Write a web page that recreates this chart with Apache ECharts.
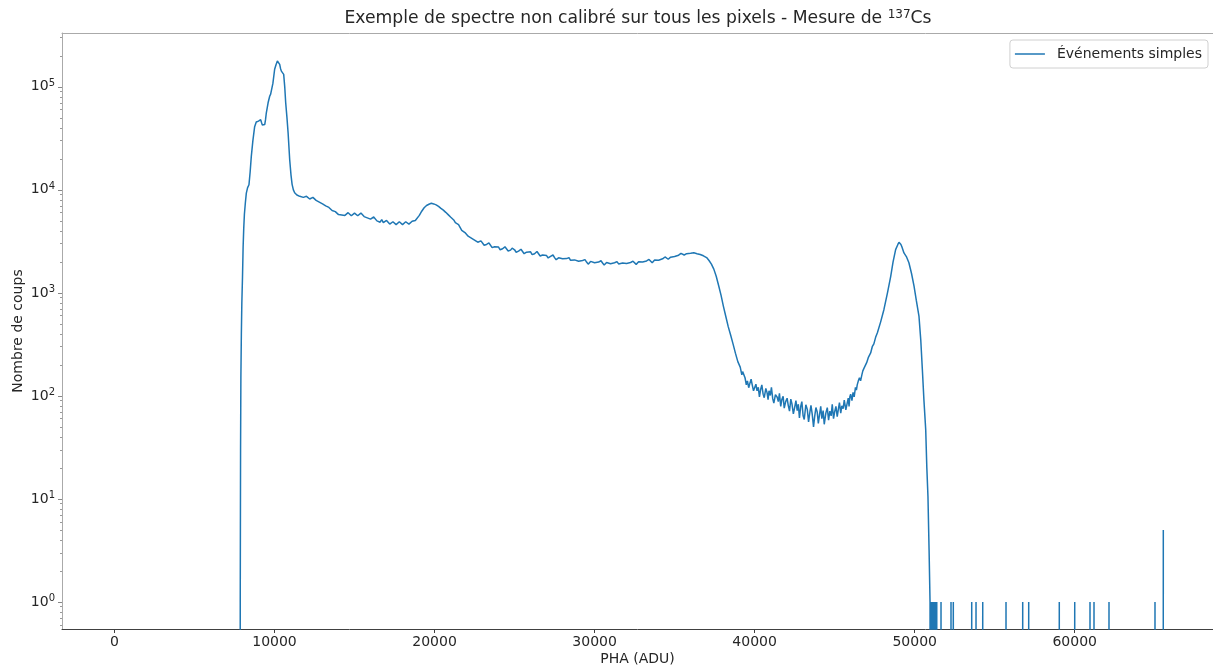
<!DOCTYPE html>
<html><head><meta charset="utf-8">
<script src="https://cdn.jsdelivr.net/npm/echarts@6/dist/echarts.min.js"></script>
<style>html,body{margin:0;padding:0;background:#fff}#c{width:1213px;height:669px}</style>
</head><body><div id="c"></div><script>
// ---- data: [PHA (ADU), counts] ----
const riseAndEscape = [[0,0],[7800,0],[7860,1],[7880,30],[7900,150],[7930,400],[7960,800],[8000,1400],[8040,2800],[8080,4300],[8120,5800],[8180,7500],[8240,9300],[8320,10500],[8405,11200],[8480,15000],[8550,21000],[8650,30000],[8760,41000],[8860,45500],[8930,44000],[9000,46500],[9080,47500],[9136,48000],[9190,45000],[9240,42500],[9300,44000],[9390,43000],[9440,48000],[9490,56000],[9600,70000],[9700,81000],[9760,85000],[9805,84000],[9900,108000],[10010,148000],[10100,165000],[10180,178000],[10220,182000],[10270,172000],[10325,165000],[10380,150000],[10430,142000],[10500,138000],[10575,132000],[10640,100000],[10700,70000],[10780,50000],[10850,35800],[10950,19600],[11030,14000],[11100,11300],[11180,10000],[11260,9360],[11400,8900],[11580,8650]];
const comptonPlateau = [[11700,8700],[11800,8450],[11900,8350],[12000,8650],[12100,8500],[12200,8150],[12300,8200],[12400,8450],[12500,8300],[12600,7900],[12700,7950],[12800,7600],[12900,7700],[13000,7300],[13100,7450],[13200,7000],[13300,6950],[13400,6750],[13500,6700],[13600,6300],[13700,6250],[13800,6150],[13900,6100],[14000,5750],[14100,5850],[14200,5700],[14300,5950],[14400,5650],[14500,5750],[14600,6000],[14700,5900],[14800,5600],[14900,5750],[15000,5950],[15100,5850],[15200,5600],[15300,5700],[15400,5950],[15500,5900],[15600,5500],[15700,5600],[15800,5350],[15900,5550],[16000,5200],[16100,5300],[16200,5450],[16300,5250],[16400,5000],[16500,5050],[16600,4850],[16700,5150],[16800,4800],[16900,4900],[17000,5050],[17100,4950],[17200,4650],[17300,4780],[17400,4900],[17500,4880],[17600,4600],[17700,4700],[17800,4900],[17900,4850],[18000,4600],[18100,4700],[18200,4900],[18300,4850],[18400,4650],[18500,4800],[18600,4950],[18700,5000],[18800,5050],[18900,5200],[19050,5650],[19200,6200],[19350,6700],[19500,7050],[19650,7250],[19800,7400],[19950,7300],[20100,7150],[20250,6900],[20400,6600],[20550,6350],[20700,6050],[20850,5750],[21000,5450],[21100,5350],[21200,5100],[21300,4800],[21400,4700],[21500,4600],[21600,4400],[21700,4050],[21800,4100],[21900,3850],[22000,3800],[22100,3550],[22200,3650],[22300,3400],[22400,3400],[22500,3250],[22600,3300],[22700,3100],[22800,3150],[22900,3200],[23000,3080],[23100,2900],[23250,2950],[23400,3050],[23500,2920],[23600,2750],[23750,2800],[23850,2900],[24000,2780],[24100,2620],[24250,2680],[24400,2800],[24500,2690],[24600,2550],[24750,2600],[24850,2720],[25000,2620],[25100,2480],[25250,2540],[25400,2650],[25500,2570],[25600,2400],[25750,2480],[25850,2580],[26000,2500],[26100,2350],[26250,2400],[26400,2520],[26500,2430],[26600,2280],[26750,2330],[26850,2420],[27000,2300],[27100,2180],[27250,2260],[27400,2330],[27500,2200],[27600,2100],[27750,2190],[27850,2280],[28000,2140],[28100,2050],[28250,2150],[28400,2200],[28500,2070],[28600,1980],[28750,2090],[28850,2150],[29000,2030],[29100,1950],[29250,2060],[29400,2100],[29500,1990],[29600,1900],[29750,2020],[29850,2080],[30000,1960],[30100,1880],[30250,1990],[30400,2050],[30500,1950],[30600,1860],[30750,1970],[30850,2050],[31000,1920],[31100,1850],[31250,1960],[31400,2010],[31500,1910],[31600,1840],[31750,1950],[31850,2020],[32000,1930],[32100,1860],[32250,1970],[32400,2030],[32500,1950],[32600,1890],[32750,2000],[32850,2070],[33000,1990],[33100,1930],[33250,2040],[33400,2110],[33500,2020],[33600,1960],[33750,2080],[33850,2150],[34000,2070],[34100,2030],[34250,2140],[34400,2230],[34500,2160],[34600,2120],[34750,2220],[34850,2310],[35000,2250],[35100,2220],[35250,2320],[35400,2420],[35500,2370],[35600,2330],[35750,2400],[35850,2480],[36000,2420],[36100,2390],[36200,2450],[36300,2470],[36400,2400],[36500,2420],[36600,2360],[36700,2330],[36800,2290],[36900,2250],[37000,2200]];
const comptonEdge = [[37150,2060],[37300,1900],[37450,1700],[37600,1450],[37750,1180],[37900,950],[38050,740],[38200,590],[38350,470],[38500,390],[38650,320],[38800,260],[38950,215],[39100,190],[39200,160],[39250,172],[39400,150],[39480,128],[39550,140],[39630,120],[39700,132],[39780,145],[39850,128],[39930,112],[40000,120]];
const valley = [[40080,130],[40150,112],[40230,121],[40300,98],[40380,116],[40450,128],[40530,104],[40600,96],[40700,118],[40780,107],[40840,92],[40900,112],[40980,101],[41050,121],[41130,94],[41200,85],[41300,103],[41410,97],[41480,88],[41550,106],[41630,79],[41700,92],[41780,99],[41850,76],[41940,88],[42030,95],[42100,81],[42180,71],[42260,93],[42330,84],[42420,67],[42500,77],[42580,90],[42660,72],[42730,83],[42800,61],[42880,79],[42950,88],[43030,64],[43100,59],[43200,82],[43290,74],[43370,56],[43450,69],[43520,81],[43600,66],[43680,50],[43750,63],[43830,77],[43910,70],[43980,54],[44050,65],[44130,79],[44200,60],[44280,72],[44350,53],[44450,68],[44540,77],[44620,58],[44700,71],[44780,64],[44850,83],[44930,60],[45000,70],[45080,79],[45160,63],[45230,74],[45300,86],[45380,68],[45450,80],[45530,75],[45600,91],[45700,73],[45790,86],[45850,95],[45900,79],[45950,98],[46000,104],[46080,90],[46150,108],[46220,98],[46300,121],[46360,114],[46410,128]];
const photopeak = [[46480,140],[46550,150],[46620,140],[46700,160],[46760,175],[46830,185],[46900,180],[47000,210],[47100,235],[47180,230],[47250,261],[47350,300],[47450,320],[47560,370],[47670,410],[47870,520],[48080,690],[48300,1000],[48500,1440],[48650,2000],[48810,2630],[48950,2950],[49020,3100],[49080,3060],[49140,2950],[49200,2800],[49330,2440],[49400,2380],[49480,2250],[49640,1960],[49800,1550],[49960,1160],[50100,850],[50270,590],[50380,350],[50480,180],[50580,90],[50690,47],[50760,20],[50830,10.6],[50900,3.2],[50960,1],[51000,0]];
const tail = [[51020,1],[51040,0],[51060,1],[51080,1],[51100,0],[51120,1],[51140,0],[51160,1],[51180,0],[51200,1],[51220,0],[51250,1],[51270,0],[51310,1],[51330,0],[51380,1],[51400,0],[51630,0],[51646,1],[51662,0],[52254,0],[52270,1],[52286,0],[52398,0],[52414,1],[52430,0],[53548,0],[53564,1],[53580,0],[53817,0],[53833,1],[53849,0],[54236,0],[54252,1],[54268,0],[55691,0],[55707,1],[55723,0],[56734,0],[56750,1],[56766,0],[57109,0],[57125,1],[57141,0],[59020,0],[59036,1],[59052,0],[59984,0],[60000,1],[60016,0],[60939,0],[60955,1],[60971,0],[61189,0],[61205,1],[61221,0],[62126,0],[62142,1],[62158,0],[65000,0],[65016,1],[65032,0],[65519,0],[65535,5]];

const xTicks = [0,10000,20000,30000,40000,50000,60000];
const yMajorTicks = [1,10,100,1000,10000,100000];
const yMinorTicks = [0.6,0.7,0.8,0.9,2,3,4,5,6,7,8,9,20,30,40,50,60,70,80,90,200,300,400,500,600,700,800,900,2000,3000,4000,5000,6000,7000,8000,9000,20000,30000,40000,50000,60000,70000,80000,90000,200000,300000];

const FONT = 'DejaVu Sans';
const TXT = '#262626';
// zero-count bins are clipped below the log axis like matplotlib's nonpositive='clip'
const spectrum = [].concat(riseAndEscape, comptonPlateau, comptonEdge, valley, photopeak, tail)
  .map(p => [p[0], p[1] > 0 ? p[1] : 1e-10]);

const chart = echarts.init(document.getElementById('c'), null, {renderer: 'canvas'});
const supRich = {
  b: {fontFamily: FONT, fontSize: 14, lineHeight: 17, color: TXT},
  sup: {fontFamily: FONT, fontSize: 10, lineHeight: 10, verticalAlign: 'top', color: TXT}
};
chart.setOption({
  animation: false,
  backgroundColor: '#fff',
  textStyle: {fontFamily: FONT},
  title: {
    text: '{t|Exemple de spectre non calibré sur tous les pixels - Mesure de }{s|137}{t|Cs}',
    left: 638, top: 9, textAlign: 'center', padding: 0,
    textStyle: {
      fontWeight: 'normal',
      rich: {
        t: {fontFamily: FONT, fontSize: 17.2, fontWeight: 'normal', lineHeight: 20, color: TXT},
        s: {fontFamily: FONT, fontSize: 12, fontWeight: 'normal', lineHeight: 12, verticalAlign: 'top', color: TXT}
      }
    }
  },
  legend: {
    right: 5, top: 40, orient: 'vertical',
    padding: [7, 6, 7, 5],
    itemWidth: 30, itemHeight: 14,
    borderColor: '#d0d0d0', borderWidth: 1, borderRadius: 3,
    backgroundColor: 'rgba(255,255,255,0.8)',
    textStyle: {fontFamily: FONT, fontSize: 14, color: TXT, padding: [0, 0, 0, 7]},
    data: [{name: 'Événements simples', icon: 'path://M0,0L30,0L30,1.5L0,1.5Z'}]
  },
  grid: {left: 62, right: 0, top: 33, bottom: 40, containLabel: false, outerBoundsMode: 'none'},
  xAxis: [{
    type: 'value', min: -3277, max: 68640,
    name: 'PHA (ADU)', nameLocation: 'middle', nameGap: 23, nameMoveOverlap: false,
    nameTextStyle: {fontFamily: FONT, fontSize: 14, color: TXT},
    axisLine: {show: true, onZero: false, lineStyle: {color: '#404040', width: 1}},
    axisTick: {show: true, customValues: xTicks, length: 4, lineStyle: {color: '#404040'}},
    axisLabel: {customValues: xTicks, fontFamily: FONT, fontSize: 14, color: TXT, margin: 6,
      formatter: v => String(v)},
    splitLine: {show: false}
  }, {
    type: 'value', position: 'top', min: -3277, max: 68640,
    axisLine: {show: true, onZero: false, lineStyle: {color: '#aaaaaa', width: 1}},
    axisTick: {show: false}, axisLabel: {show: false}, splitLine: {show: false}
  }],
  yAxis: [{
    type: 'log', logBase: 10, min: 0.546, max: 333000, position: 'left',
    name: 'Nombre de coups', nameLocation: 'middle', nameGap: 37, nameMoveOverlap: false,
    nameTextStyle: {fontFamily: FONT, fontSize: 14, color: TXT},
    axisLine: {show: true, onZero: false, lineStyle: {color: '#aaaaaa', width: 1}},
    axisTick: {show: true, customValues: yMajorTicks, length: 4, lineStyle: {color: '#888888'}},
    axisLabel: {
      customValues: yMajorTicks, margin: 7,
      formatter: v => '{b|10}{sup|' + Math.round(Math.log10(v)) + '}',
      rich: supRich
    },
    splitLine: {show: false}, minorTick: {show: false}
  }, {
    type: 'log', logBase: 10, min: 0.546, max: 333000, position: 'left',
    axisLine: {show: false, onZero: false},
    axisTick: {show: true, customValues: yMinorTicks, length: 2, lineStyle: {color: '#999999'}},
    axisLabel: {show: false}, splitLine: {show: false}
  }],
  series: [{
    name: 'Événements simples', type: 'line',
    xAxisIndex: 0, yAxisIndex: 0,
    data: spectrum, showSymbol: false, symbol: 'none',
    lineStyle: {color: '#1f77b4', width: 1.5},
    itemStyle: {color: '#1f77b4'},
    clip: true
  }]
});
</script></body></html>
